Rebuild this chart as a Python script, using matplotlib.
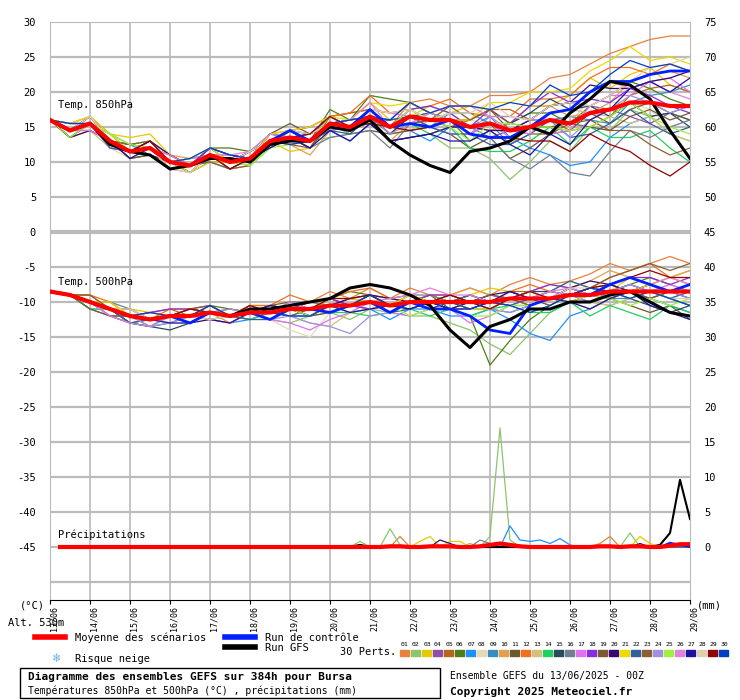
import numpy as np
import matplotlib
matplotlib.use("Agg")
import matplotlib.pyplot as plt
from matplotlib.lines import Line2D
from matplotlib.patches import Rectangle

hours12 = list(range(0, 385, 12))
hours6 = list(range(0, 385, 6))
day_labels = ["13/06","14/06","15/06","16/06","17/06","18/06","19/06","20/06","21/06",
              "22/06","23/06","24/06","25/06","26/06","27/06","28/06","29/06"]
member_colors = ["#e8813a","#8cc56c","#e8c800","#8e4fa8","#b5651d","#4f7f16","#1e90ff","#e8d9b5",
                 "#3a8ebf","#e0a050","#6b5a2a","#f07020","#d2c080","#20d060","#2a4a60","#708090",
                 "#e070f0","#8a2be2","#7a5a30","#3a0a70","#f0d800","#3060a0","#8a6030","#a090e0",
                 "#a0f040","#e080e0","#2010a0","#e0d0b0","#900000","#0040c0"]

mean850 = [16,14.5,15.5,13,11.5,12,10,9.5,11,10,10.5,13,13.5,13,15.5,15,16.5,15,16.5,16,16,15,
           15.5,14.5,15,16,15.5,17,17.5,18.5,18.5,18,18]
gfs850 = [16,14.5,15.5,12.5,11.5,11,9,9.5,10.5,10.5,10,12.5,13,13,15,14.5,16,13,11,9.5,8.5,11.5,
          12,13,15,14,17,19,21.5,21,19,14.5,10.5]
ctrl850_dev = "0 0 0 0 0 0 0 0 0 0 0 0 1 0 0 0 1 0 -1 -1 0 -1 -2 -1 0 1 2 3 4 3 4 5 5"
dev850 = """0 0 1 0 1 0 -1 0 1 1 0 1 1 2 1 2 1 0 2 3 2 3 4 5 5 6 7 7 8 8 9 10 10
0 1 0 -1 0 1 0 1 0 -1 0 -1 1 0 -2 -1 0 -2 -3 -2 -4 -3 -5 -7 -5 -3 -4 -2 -3 -1 -2 -4 -5
0 0 0 1 2 2 1 0 1 0 -1 0 -2 -1 0 1 2 1 0 2 1 3 2 1 3 2 4 5 3 4 5 3 2
0 0 -1 0 0 -1 0 -1 -1 0 1 0 1 2 1 0 -1 1 2 1 0 -1 -2 0 1 2 3 1 0 -2 -3 -1 0
0 -1 0 0 -1 0 1 0 0 1 0 1 0 -1 1 2 1 2 1 0 -1 1 2 3 1 0 -1 -2 -1 1 2 3 2
0 0 1 1 0 0 -1 0 1 2 1 0 1 0 2 1 3 4 2 1 0 -2 -1 1 2 1 0 1 2 3 2 1 0
0 1 0 0 1 -1 0 0 -1 -1 0 0 -1 0 -1 -2 -1 0 -2 -3 -1 0 1 -1 -3 -5 -6 -7 -4 -3 -2 -1 -2
0 0 0 -1 -1 0 0 1 0 0 -1 0 0 1 0 -1 1 0 1 0 2 1 0 -1 -2 -1 0 2 1 0 -1 -3 -2
0 0 1 0 0 1 0 -1 0 0 1 1 0 -1 0 1 0 1 0 -1 1 2 0 -2 -1 0 1 -1 -2 0 1 2 3
0 -1 -1 0 0 0 1 1 0 -1 -1 0 -1 -2 -1 0 -1 -2 -1 0 1 0 -1 1 3 2 1 0 1 3 4 5 4
0 0 0 0 1 0 0 -1 0 0 0 1 2 1 0 -1 -2 -1 0 -1 -2 -3 -2 -4 -3 -2 -1 0 -2 -1 0 -1 -2
0 1 1 0 0 0 -1 0 1 0 1 0 -1 0 1 2 3 2 1 2 3 2 1 2 4 3 4 5 6 5 4 6 5
0 0 -1 -1 0 1 0 0 0 1 0 -1 0 1 0 -1 0 -1 -2 0 1 0 -1 -2 0 1 2 0 -1 -3 -2 -4 -5
0 0 0 1 1 1 0 1 0 0 -1 -1 0 0 -1 0 1 0 -1 -2 -1 -3 -4 -3 -2 -1 -3 -2 -4 -5 -4 -6 -8
0 -1 0 0 -1 -1 0 0 1 1 0 0 1 1 0 1 0 -1 0 1 0 -1 0 1 2 3 2 1 -1 0 -2 -1 -3
0 0 0 0 0 1 1 0 -1 0 0 1 0 -1 -2 -1 -2 -3 -1 0 -1 0 -2 -4 -6 -5 -7 -9 -6 -4 -5 -3 -2
0 1 0 -1 0 0 0 1 0 0 1 0 -1 0 -1 0 1 2 0 -1 -2 -1 0 -1 0 -2 -1 1 2 1 3 4 2
0 0 1 0 0 0 0 0 1 1 0 -1 0 1 1 0 -1 0 1 2 1 0 2 1 3 4 3 2 1 2 1 0 -1
0 0 0 0 -1 -1 -1 0 0 -1 0 0 0 -1 0 1 0 -1 -2 -1 0 1 2 1 0 -1 0 -2 -3 -2 -1 -2 -1
0 -1 -1 0 0 1 1 0 0 0 1 0 0 0 1 0 -1 -2 -3 -2 -1 0 -1 0 1 2 3 4 3 2 3 4 5
0 1 1 1 0 0 0 -1 -1 0 0 1 1 2 1 1 2 3 2 1 0 1 3 4 5 4 5 6 7 8 6 7 6
0 0 0 -1 0 0 0 0 0 0 0 0 1 0 -1 -1 0 1 0 -1 -2 -1 -3 -2 -1 0 -2 -3 -2 -1 -3 -4 -3
0 0 0 0 1 1 0 0 -1 -1 -1 0 -1 -1 0 0 1 0 -1 0 2 1 2 0 -1 -2 0 -1 -3 -4 -6 -7 -6
0 1 0 0 0 -1 -1 -1 0 0 0 0 0 1 0 1 0 -1 -1 1 0 -1 1 2 1 0 -2 -1 0 1 0 -1 0
0 -1 0 1 1 0 0 1 1 0 -1 -1 -1 0 1 0 -1 0 1 0 -1 -2 0 1 0 -1 -1 -2 -1 0 -2 -3 -4
0 0 -1 0 0 0 1 0 0 1 1 1 0 0 0 1 2 0 -1 1 2 3 1 0 -1 1 2 3 4 2 3 2 1
0 0 0 0 -1 0 0 0 0 0 0 -1 0 -1 -1 -2 -1 -2 -3 -2 -3 -2 -1 -2 -4 -2 -3 -1 0 2 3 2 4
0 0 1 0 0 0 -1 -1 0 0 1 0 1 1 0 0 1 2 1 0 1 2 3 2 1 2 3 1 2 3 5 6 7
0 0 0 0 0 1 0 0 0 -1 0 0 0 1 1 0 -1 0 -2 -1 0 -1 -2 -1 -2 -3 -4 -3 -5 -7 -9 -10 -8
0 1 0 0 0 0 0 1 1 1 0 0 -1 0 0 1 0 1 2 1 2 3 2 4 3 5 4 3 5 6 5 6 5"""

mean500 = [-8.5,-9,-10,-11,-12,-12.5,-12,-12,-11.5,-12,-11.5,-11.5,-11,-11,-10.5,-10.5,-10,-10.5,
           -10,-10,-10,-10,-10,-9.5,-9.5,-9.5,-9,-9,-8.5,-8.5,-8.5,-8.5,-8.5]
gfs500 = [-8.5,-9,-10,-11,-12,-12.5,-12,-12,-11.5,-12,-11,-11,-10.5,-10,-9.5,-8,-7.5,-8,-9,-10.5,
          -14,-16.5,-13.5,-12.5,-11,-11,-10,-10,-9,-8.5,-10,-11.5,-12]
ctrl500_dev = "0 0 0 0 0 0 0 -1 0 0 0 -1 0 0 -1 0 0 -1 0 -1 -1 -2 -4 -5 -1 0 0 0 1 2 1 0 1"
dev500 = """0 0 0 1 0 1 0 0 1 0 1 1 0 1 2 1 2 1 2 1 1 2 1 2 3 2 2 3 4 3 4 5 4
0 0 -1 0 0 -1 0 -1 0 0 -1 -1 -2 -1 -1 -2 -1 -1 -2 -2 -3 -4 -6 -8 -5 -2 -1 -1 -2 -1 0 -1 -2
0 0 0 0 1 1 0 1 0 1 0 0 1 0 1 0 0 1 0 1 0 1 2 1 0 1 2 1 0 2 1 2 3
0 0 0 -1 0 0 -1 0 -1 0 0 1 0 -1 0 1 0 -1 0 1 0 0 -1 0 1 0 1 0 -1 0 1 0 1
0 0 1 0 0 1 1 0 0 0 1 0 0 1 0 0 1 0 0 -1 0 1 0 1 1 0 -1 0 1 0 -1 0 1
0 0 0 0 1 0 0 0 1 1 0 1 0 0 1 2 1 0 0 1 -1 -2 -9 -6 -3 -1 0 1 0 1 2 1 0
0 0 0 0 -1 -1 0 0 -1 -1 -1 0 -1 -1 0 -1 -1 -2 -1 -1 -2 -2 -1 -3 -5 -6 -3 -2 -1 0 -1 -2 -3
0 0 0 1 0 0 -1 -1 0 -1 0 -1 -3 -4 -1 0 0 -1 0 1 0 0 -1 0 1 0 0 1 0 -1 0 1 0
0 0 -1 -1 -1 -1 -1 0 0 0 -1 0 0 0 -1 0 -1 0 1 0 -1 -1 -1 -2 -1 0 1 0 -1 -1 0 -1 -2
0 0 0 0 0 1 0 0 0 -1 0 0 0 1 0 0 -1 0 1 0 1 2 1 0 1 2 1 2 3 2 1 2 3
0 0 0 -1 -1 0 0 1 0 0 0 1 0 -1 -1 0 0 -1 0 0 -1 0 0 -1 -1 0 -1 0 -1 -2 -3 -2 -4
0 0 1 1 0 0 1 1 0 0 1 1 2 1 1 2 2 1 0 1 0 1 0 1 2 1 0 1 2 3 4 2 1
0 0 0 0 0 -1 0 0 0 0 -1 0 -1 -2 -3 -1 0 1 0 0 1 0 0 1 0 -1 0 -1 -2 -1 0 -1 0
0 0 -1 0 -1 -1 0 0 -1 0 -1 0 -1 0 -1 -1 -2 -1 -1 -2 -1 -2 -1 -1 -2 -2 -1 -3 -2 -3 -4 -2 -3
0 0 0 0 -1 -1 -2 -1 0 0 0 0 0 0 1 0 0 0 -1 0 0 -1 0 0 1 1 0 1 0 -1 -2 -3 -2
0 0 0 1 1 0 0 0 0 1 0 0 1 1 0 1 0 0 1 1 0 1 0 0 -1 0 1 0 1 0 -1 0 0
0 0 0 -1 0 0 0 0 -1 -1 0 -1 -2 -3 -2 -1 0 -1 -2 -1 -1 -3 -2 -1 0 1 0 -1 0 1 0 1 0
0 0 0 0 0 1 1 1 1 0 0 0 0 1 1 0 -1 0 0 1 1 0 1 0 1 2 1 0 1 2 2 1 2
0 0 -1 -1 0 0 0 -1 0 0 0 1 1 0 0 0 1 1 1 0 0 0 -1 0 0 -1 0 1 1 0 -1 0 1
0 0 0 0 0 0 0 -1 -1 -1 0 0 0 -1 0 1 1 1 0 0 -1 0 1 1 0 0 1 2 1 0 1 0 -1
0 0 0 1 0 0 0 0 0 0 0 -1 0 0 1 1 0 0 1 0 0 -1 -1 0 0 0 -1 -2 -1 0 1 2 1
0 0 0 0 -1 0 0 0 0 0 -1 -1 0 0 0 0 0 -1 -1 0 0 1 0 -1 0 1 2 1 0 1 0 -1 0
0 0 1 0 0 0 0 1 1 0 0 0 -1 0 0 0 1 0 0 0 1 0 1 0 -1 0 0 1 2 3 4 3 4
0 0 0 0 0 -1 -1 0 0 1 0 -1 -1 -2 -3 -4 -2 -1 0 -1 0 0 -1 -2 -1 0 0 -1 0 1 0 0 -1
0 0 0 0 0 0 0 0 0 0 0 0 0 -1 0 -1 -1 0 -2 -1 -1 -2 -2 -1 -1 0 -1 0 -1 -2 -1 -2 -1
0 0 0 -1 -1 -1 0 0 0 0 0 0 1 0 0 0 0 1 1 2 1 1 0 0 0 1 1 0 1 2 1 2 1
0 0 0 0 0 0 -1 -1 0 0 0 1 0 0 0 -1 -1 0 -1 0 -1 -1 0 1 0 0 -1 -2 -1 0 -2 -3 -4
0 0 0 0 1 0 0 0 -1 0 0 -1 0 0 -1 0 0 0 0 -1 0 0 0 0 1 0 1 1 0 -1 0 -1 -1
0 0 0 0 0 0 0 1 0 0 1 0 0 0 1 1 1 0 0 0 1 0 -1 0 1 0 0 1 1 2 3 2 2
0 0 0 0 0 1 0 0 1 0 0 0 -1 -1 0 0 1 0 0 -1 0 -1 0 -1 -2 -1 0 1 0 -1 0 -1 -2"""

# precipitation (mm), 6-hourly; members listed by number
precip_members = {
 1: "0 0 0 0 0 0 0 0 0 0 0 0 0 0 0 0 0 0 0 0 0 0 0 0 0 0 0 0 0 0 0 0 0 0 0 1.5 0 0 0 0 0 0 0 0 0 0 0 0 0 0 0 0 0 0 0 0.5 1.5 0 0 0 0 0 0 0 0",
 2: "0 0 0 0 0 0 0 0 0 0 0 0 0 0 0 0 0 0 0 0 0 0 0 0 0 0 0 0 0 0 0 0.8 0 0 2.6 0.3 0 0 0 0 0 0 0.5 0 1.5 17 1 0 0 0 0 0 0 0 0 0 0 0 2 0 0 0 0 0 0",
 3: "0 0 0 0 0 0 0 0 0 0 0 0 0 0 0 0 0 0 0 0 0 0 0 0 0 0 0 0 0 0 0 0 0 0 0 0 0 0.8 1.5 0 0.8 0.8 0 0 0 0 0 0 0 0 0 0 0 0 0 0 0 0 0 1.5 0.5 0 0 0 0",
 7: "0 0 0 0 0 0 0 0 0 0 0 0 0 0 0 0 0 0 0 0 0 0 0 0 0 0 0 0 0 0 0 0 0 0 0 0 0 0 0 0 0 0 0 0 0 0 3 1 0.8 1 0.5 1.2 0.3 0 0 0 0 0 0 0 0 0 0 0 0",
 20: "0 0 0 0 0 0 0 0 0 0 0 0 0 0 0 0 0 0 0 0 0 0 0 0 0 0 0 0 0 0 0 0 0 0 0 0 0 0 0 1 0.5 0 0 0 0 0 0 0 0 0 0 0 0 0 0 0 0 0 0 0.5 0 0 0 0 0",
 16: "0 0 0 0 0 0 0 0 0 0 0 0 0 0 0 0 0 0 0 0 0 0 0 0 0 0 0 0 0 0 0 0 0 0 0 0 0 0 0 0 0 0 0 1 0.5 0 0 0 0 0 0 0 0 0 0 0 0 0 0 0 0 0 0 0 0",
}
precip_gfs = "0 0 0 0 0 0 0 0 0 0 0 0 0 0 0 0 0 0 0 0 0 0 0 0 0 0 0 0 0 0 0 0.3 0 0 0 0 0 0 0 0 0 0 0 0 0 0 0 0 0 0 0 0 0 0 0 0 0 0 0 0 0 0.3 2 9.6 4"
precip_ctrl = "0 0 0 0 0 0 0 0 0 0 0 0 0 0 0 0 0 0 0 0 0 0 0 0 0 0 0 0 0 0 0 0 0 0 0 0 0 0 0 0 0 0 0 0 0 0 0 0 0 0 0 0 0 0 0 0 0 0 0 0 0 0 0.6 0.3 0"
precip_mean = "0 0 0 0 0 0 0 0 0 0 0 0 0 0 0 0 0 0 0 0 0 0 0 0 0 0 0 0 0 0 0 0 0 0 0.1 0.1 0 0 0.1 0.1 0.1 0 0 0.1 0.3 0.5 0.3 0.1 0 0 0 0 0 0 0 0.1 0.1 0 0.1 0.1 0 0 0.2 0.4 0.4"

def arr(s):
    return np.array([float(v) for v in s.split()])

PBASE = -45  # precipitation zero level on the temperature axis

W, H = 740, 700
fig = plt.figure(figsize=(W/100, H/100), dpi=100)
ax = fig.add_axes([50/W, 1-600/H, 640/W, 578/H])
ymin = 30 - 578/35*5
ax.set_xlim(0, 384)
ax.set_ylim(ymin, 30)
mono = "DejaVu Sans Mono"

for v in range(-50, 30, 5):
    ax.axhline(v, color="#bbbbbb", lw=1.6 if v != 0 else 3, zorder=0)
for d in range(24, 384, 24):
    ax.axvline(d, color="#bbbbbb", lw=1.2, zorder=0)

d850 = [arr(r) for r in dev850.strip().split("\n")]
d500 = [arr(r) for r in dev500.strip().split("\n")]
m850 = np.array(mean850); m500 = np.array(mean500)
for i in range(30):
    c = member_colors[i]
    ax.plot(hours12, m850 + d850[i], color=c, lw=0.9, zorder=2)
    ax.plot(hours12, m500 + d500[i], color=c, lw=0.9, zorder=2)
for k, s in precip_members.items():
    ax.plot(hours6[1:], PBASE + arr(s)[1:], color=member_colors[k-1], lw=0.9, zorder=2)

ax.plot(hours12, m850 + arr(ctrl850_dev), color="#0020ff", lw=2, zorder=3)
ax.plot(hours12, m500 + arr(ctrl500_dev), color="#0020ff", lw=2, zorder=3)
ax.plot(hours6[1:], PBASE + arr(precip_ctrl)[1:], color="#0020ff", lw=1.5, zorder=3)
ax.plot(hours12, gfs850, color="black", lw=2.2, zorder=4)
ax.plot(hours12, gfs500, color="black", lw=2.2, zorder=4)
ax.plot(hours6[1:], PBASE + arr(precip_gfs)[1:], color="black", lw=1.5, zorder=4)
ax.plot(hours12, m850, color="#ff0000", lw=3, zorder=5)
ax.plot(hours12, m500, color="#ff0000", lw=3, zorder=5)
ax.plot(hours6[1:], PBASE + arr(precip_mean)[1:], color="#ff0000", lw=3, zorder=5)

ax.text(5, 18.2, "Temp. 850hPa", fontsize=7.5, family=mono, va="center", zorder=6)
ax.text(5, -7.1, "Temp. 500hPa", fontsize=7.5, family=mono, va="center", zorder=6)
ax.text(5, -43.3, "Précipitations", fontsize=7.5, family=mono, va="center", zorder=6)

for s in ["left", "right", "top"]:
    ax.spines[s].set_color("#bbbbbb")
ax.spines["bottom"].set_color("black")
yt = list(range(-45, 31, 5))
ax.set_yticks(yt)
ax.set_yticklabels([str(v) for v in yt], family=mono, fontsize=7.5)
ax.tick_params(axis="y", length=0, pad=10)
ax.set_xticks(list(range(0, 385, 24)))
ax.set_xticklabels(day_labels, rotation=90, family=mono, fontsize=6)
ax.tick_params(axis="x", length=3, pad=1)
for lab in ax.get_xticklabels():
    lab.set_horizontalalignment("left")
ax2 = ax.twinx()
ax2.set_ylim(ymin, 30)
ax2.set_yticks(yt)
ax2.set_yticklabels([str(v + 45) for v in yt], family=mono, fontsize=7.5)
ax2.tick_params(axis="y", length=0, pad=10)
for s in ax2.spines.values():
    s.set_visible(False)

def ft(x, y, s, **kw):
    fig.text(x/W, 1-y/H, s, family=mono, fontsize=kw.pop("fs", 7.5), va="center", **kw)

ft(20, 606, "(°C)")
ft(697, 606, "(mm)")
ft(8, 623, "Alt. 530m")
fig.add_artist(Line2D([35/W, 65/W], [1-637/H]*2, color="#ff0000", lw=4))
ft(75, 638, "Moyenne des scénarios")
fig.add_artist(Line2D([225/W, 255/W], [1-637/H]*2, color="#0020ff", lw=4))
ft(265, 638, "Run de contrôle")
fig.add_artist(Line2D([225/W, 255/W], [1-647/H]*2, color="black", lw=4))
ft(265, 648, "Run GFS")
ft(53, 659, "❄", color="#6aaee8", fs=9)
ft(75, 659, "Risque neige")
ft(340, 652, "30 Perts.")
for i in range(30):
    x0 = 400 + i*11
    fig.text((x0 + 5)/W, 1-644/H, f"{i+1:02d}", family=mono, fontsize=4.6,
             ha="center", va="center")
    fig.add_artist(Rectangle((x0/W, 1-656/H), 9/W, 6/H, color=member_colors[i]))
fig.add_artist(Rectangle((20/W, 1-698/H), 420/W, 30/H, fill=False, ec="black", lw=1))
ft(28, 677, "Diagramme des ensembles GEFS sur 384h pour Bursa", weight="bold", fs=8)
ft(28, 691, "Températures 850hPa et 500hPa (°C) , précipitations (mm)", fs=7)
ft(450, 676, "Ensemble GEFS du 13/06/2025 - 00Z", fs=7)
ft(450, 692, "Copyright 2025 Meteociel.fr", weight="bold", fs=8)

fig.savefig("out.png", dpi=100, facecolor="white")
